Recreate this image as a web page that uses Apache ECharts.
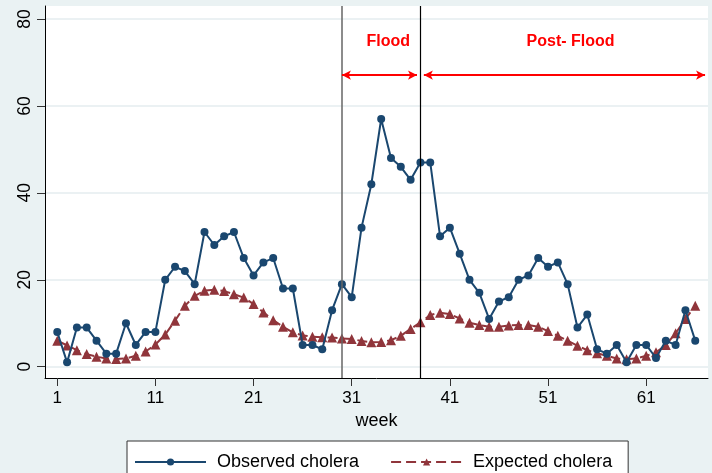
<!DOCTYPE html>
<html>
<head>
<meta charset="utf-8">
<script src="https://cdn.jsdelivr.net/npm/echarts@6/dist/echarts.min.js"></script>
<style>
html,body{margin:0;padding:0;background:#eaf2f3;}
#chart{width:712px;height:473px;}
</style>
</head>
<body>
<div id="chart"></div>
<script>
const weeks = [];
for (let w = 1; w <= 66; w++) weeks.push(w);
const observed = [8,1,9,9,6,3,3,10,5,8,8,20,23,22,19,31,28,30,31,25,21,24,25,18,18,5,5,4,13,19,
  16,32,42,57,48,46,43,47,47,30,32,26,20,17,11,15,16,20,21,25,23,24,19,9,12,4,3,5,1,5,5,2,6,5,13,6];
const expected = [6.0,4.9,3.8,2.9,2.3,1.9,1.8,1.9,2.5,3.5,5.1,7.4,10.6,14.0,16.3,17.5,17.7,17.4,16.7,15.9,
  14.4,12.5,10.7,9.2,7.9,7.2,6.9,6.8,6.7,6.5,6.4,5.9,5.6,5.7,6.1,7.1,8.7,10.2,11.9,12.4,
  12.1,11.1,10.1,9.6,9.2,9.2,9.5,9.6,9.6,9.2,8.2,7.1,6.0,4.8,3.8,3.1,2.5,1.9,1.7,1.9,
  2.5,3.3,5.0,7.7,11.0,14.0];
const xTicks = [1,11,21,31,41,51,61];
const yTicks = [0,20,40,60,80];
const periodLines = [30, 38];
const floodArrow = [30, 37.65, 67.1];
const postArrow = [38.35, 67.0, 67.1];
const labels = [{name:'Flood', x:34.73, y:74.8},{name:'Post- Flood', x:53.3, y:74.8}];

const obsData = weeks.map((w,i)=>[w, observed[i]]);
const expData = weeks.map((w,i)=>[w, expected[i]]);
const FONT = '"Liberation Sans", Arial, sans-serif';

const chart = echarts.init(document.getElementById('chart'));
chart.setOption({
  backgroundColor: '#eaf2f3',
  animation: false,
  grid: {left: 45, right: 4, top: 6, bottom: 95, show: true, backgroundColor: '#ffffff', borderWidth: 0},
  xAxis: {
    type: 'value', min: -0.25, max: 67.3,
    name: 'week', nameLocation: 'middle', nameGap: 32,
    nameTextStyle: {fontFamily: FONT, fontSize: 18, color: '#000'},
    axisLine: {show: true, onZero: false, lineStyle: {color: '#000', width: 1}},
    axisTick: {show: true, length: 8, customValues: xTicks, lineStyle: {color: '#333'}},
    axisLabel: {customValues: xTicks, margin: 12, fontFamily: FONT, fontSize: 17, color: '#000'},
    splitLine: {show: false}
  },
  yAxis: {
    type: 'value', min: -2.6, max: 83,
    axisLine: {show: true, onZero: false, lineStyle: {color: '#000', width: 1}},
    axisTick: {show: true, length: 8, customValues: yTicks, lineStyle: {color: '#333'}},
    axisLabel: {customValues: yTicks, rotate: 90, margin: 11, fontFamily: FONT, fontSize: 17.5, color: '#000'},
    splitLine: {show: true, lineStyle: {color: '#e4edef', width: 1.5}}
  },
  legend: {
    left: 127, top: 441,
    padding: [12, 16, 25, 7],
    itemGap: 31, itemWidth: 71, itemHeight: 9,
    backgroundColor: '#ffffff', borderColor: '#333', borderWidth: 1, borderRadius: 0,
    textStyle: {fontFamily: FONT, fontSize: 18, color: '#000', padding: [0,0,0,6]},
    data: ['Observed cholera', 'Expected cholera']
  },
  series: [
    {
      name: 'Observed cholera', type: 'line', data: obsData,
      symbol: 'circle', symbolSize: 8,
      lineStyle: {color: '#1a476f', width: 2},
      itemStyle: {color: '#1a476f'},
      z: 3,
      markLine: {
        silent: true, symbol: 'none', animation: false,
        label: {show: false},
        data: [
          {xAxis: periodLines[0], lineStyle: {color: '#666', width: 1.5, type: 'solid'}},
          {xAxis: periodLines[1], lineStyle: {color: '#000', width: 1.2, type: 'solid'}},
          [{coord: [floodArrow[0], floodArrow[2]], symbol: 'arrow'}, {coord: [floodArrow[1], floodArrow[2]], symbol: 'arrow'}],
          [{coord: [postArrow[0], postArrow[2]], symbol: 'arrow'}, {coord: [postArrow[1], postArrow[2]], symbol: 'arrow'}]
        ].map((d, i) => {
          if (Array.isArray(d)) {
            d[0].lineStyle = {color: '#ff0000', width: 2, type: 'solid'};
            d[0].symbolSize = [7, 9];
            d[1].symbolSize = [7, 9];
          }
          return d;
        })
      },
      markPoint: {
        silent: true,
        symbol: 'circle', symbolSize: 0,
        data: labels.map(l => ({
          coord: [l.x, l.y], value: l.name,
          label: {show: true, position: 'inside', formatter: l.name, color: '#ff0000', fontWeight: 'bold', fontSize: 16, fontFamily: FONT}
        }))
      }
    },
    {
      name: 'Expected cholera', type: 'line', data: expData,
      symbol: 'triangle', symbolSize: 10,
      lineStyle: {color: '#90353b', width: 2, type: [10, 5]},
      itemStyle: {color: '#90353b'},
      z: 2
    }
  ]
});
</script>
</body>
</html>
